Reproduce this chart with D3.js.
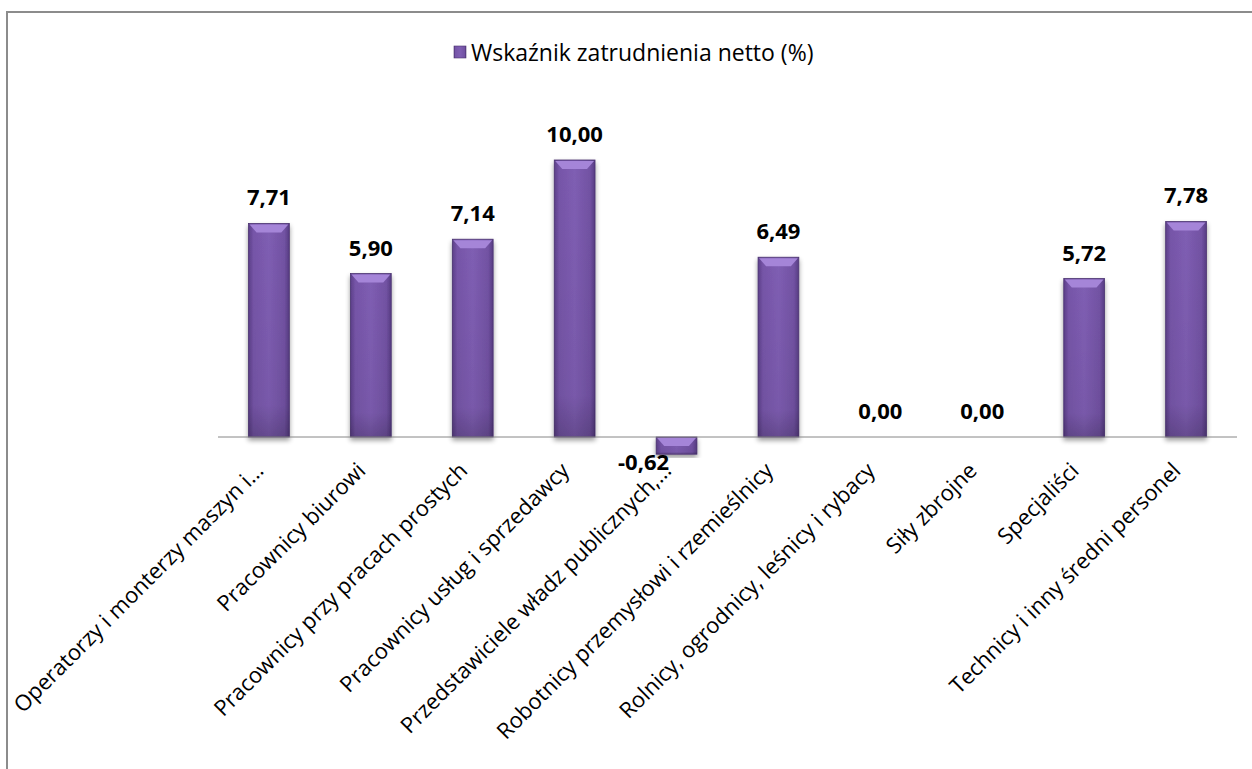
<!DOCTYPE html>
<meta charset="utf-8">
<html>
<head>
<script src="https://d3js.org/d3.v7.min.js"></script>
<style>
  body { margin: 0; background: #fff; }
  text { font-family: "Open Sans", "Noto Sans", sans-serif; fill: #000; }
</style>
</head>
<body>
<svg id="chart" width="1252" height="769"></svg>
<script>
// chart data
var categories = [
  "Operatorzy i monterzy maszyn i…",
  "Pracownicy biurowi",
  "Pracownicy przy pracach prostych",
  "Pracownicy usług i sprzedawcy",
  "Przedstawiciele władz publicznych,…",
  "Robotnicy przemysłowi i rzemieślnicy",
  "Rolnicy, ogrodnicy, leśnicy i rybacy",
  "Siły zbrojne",
  "Specjaliści",
  "Technicy i inny średni personel"
];
var values = [7.71, 5.90, 7.14, 10.00, -0.62, 6.49, 0.00, 0.00, 5.72, 7.78];
var seriesName = "Wskaźnik zatrudnienia netto (%)";

var svg = d3.select("#chart");

// frame around the chart area
svg.append("path")
    .attr("d", "M7,769 L7,12 L1252,12")
    .attr("fill", "none")
    .attr("stroke", "#8c8c8c")
    .attr("stroke-width", 2);

var defs = svg.append("defs");
var grad = defs.append("linearGradient").attr("id", "barGrad")
    .attr("x1", "0").attr("x2", "1").attr("y1", "0").attr("y2", "0");
grad.append("stop").attr("offset", "0%").attr("stop-color", "#5c3f89");
grad.append("stop").attr("offset", "12%").attr("stop-color", "#7655a8");
grad.append("stop").attr("offset", "50%").attr("stop-color", "#7f5eb3");
grad.append("stop").attr("offset", "88%").attr("stop-color", "#7252a3");
grad.append("stop").attr("offset", "100%").attr("stop-color", "#573c83");

var vgrad = defs.append("linearGradient").attr("id", "barShade")
    .attr("x1", "0").attr("x2", "0").attr("y1", "0").attr("y2", "1");
vgrad.append("stop").attr("offset", "0%").attr("stop-color", "#000").attr("stop-opacity", 0);
vgrad.append("stop").attr("offset", "85%").attr("stop-color", "#000").attr("stop-opacity", 0.05);
vgrad.append("stop").attr("offset", "100%").attr("stop-color", "#000").attr("stop-opacity", 0.2);

var shadow = defs.append("filter").attr("id", "shadow")
    .attr("x", "-30%").attr("y", "-10%").attr("width", "160%").attr("height", "130%");
shadow.append("feGaussianBlur").attr("in", "SourceAlpha").attr("stdDeviation", 2.5);
shadow.append("feOffset").attr("dx", 0).attr("dy", 3).attr("result", "b");
shadow.append("feComponentTransfer").append("feFuncA").attr("type", "linear").attr("slope", 0.4);
var merge = shadow.append("feMerge");
merge.append("feMergeNode");
merge.append("feMergeNode").attr("in", "SourceGraphic");

var x = d3.scaleBand().domain(categories).range([218, 1237]).paddingInner(0.6).paddingOuter(0.3);
var y = d3.scaleLinear().domain([0, 10]).range([437, 160]);

// bars
var bars = svg.append("g").selectAll("g").data(values).enter().append("g")
    .attr("filter", "url(#shadow)");

bars.append("rect")
    .attr("x", function(d, i) { return x(categories[i]); })
    .attr("y", function(d) { return y(Math.max(0, d)); })
    .attr("width", x.bandwidth())
    .attr("height", function(d) { return Math.abs(y(d) - y(0)); })
    .attr("fill", "url(#barGrad)")
    .attr("stroke", "#4a3270")
    .attr("stroke-width", 0.8);

bars.append("rect")
    .attr("x", function(d, i) { return x(categories[i]); })
    .attr("y", function(d) { return y(Math.max(0, d)); })
    .attr("width", x.bandwidth())
    .attr("height", function(d) { return Math.abs(y(d) - y(0)); })
    .attr("fill", "url(#barShade)");

// light bevel on top of each bar
bars.append("path")
    .attr("d", function(d, i) {
        if (d === 0) return "";
        var x0 = x(categories[i]), w = x.bandwidth(), t = y(Math.max(0, d));
        var h = Math.min(9, Math.abs(y(d) - y(0)) - 1);
        return "M" + (x0 + 1) + "," + (t + 1) + " L" + (x0 + w - 1) + "," + (t + 1) +
               " L" + (x0 + w - 8) + "," + (t + h) + " L" + (x0 + 8) + "," + (t + h) + "Z";
    })
    .attr("fill", "#a585d8");

// zero line
svg.append("line")
    .attr("x1", 218).attr("x2", 1237)
    .attr("y1", y(0)).attr("y2", y(0))
    .attr("stroke", "#868686").attr("stroke-width", 1);

// value labels
var fmt = function(v) { return d3.format(".2f")(v).replace(".", ",").replace("−", "-"); };
svg.append("g").selectAll("text").data(values).enter().append("text")
    .attr("x", function(d, i) {
        var c = x(categories[i]) + x.bandwidth() / 2;
        return d < 0 ? c - 33 : c;
    })
    .attr("y", function(d) { return d < 0 ? y(d) + 16 : y(d) - 18; })
    .attr("text-anchor", "middle")
    .style("font-size", "22px")
    .style("font-weight", "bold")
    .text(fmt);

// category labels
svg.append("g").selectAll("text").data(categories).enter().append("text")
    .attr("transform", function(d) {
        var c = x(d) + x.bandwidth() / 2;
        return "translate(" + (c - 4) + "," + 472 + ") rotate(-45)";
    })
    .attr("text-anchor", "end")
    .style("font-size", "22px")
    .text(function(d) { return d; });

// legend
var legend = svg.append("g").attr("transform", "translate(454,46)");
legend.append("rect").attr("width", 12).attr("height", 12)
    .attr("fill", "url(#barGrad)").attr("stroke", "#4a3270").attr("stroke-width", 0.6);
legend.append("text").attr("x", 17).attr("y", 15)
    .style("font-size", "23px")
    .text(seriesName);
</script>
</body>
</html>
